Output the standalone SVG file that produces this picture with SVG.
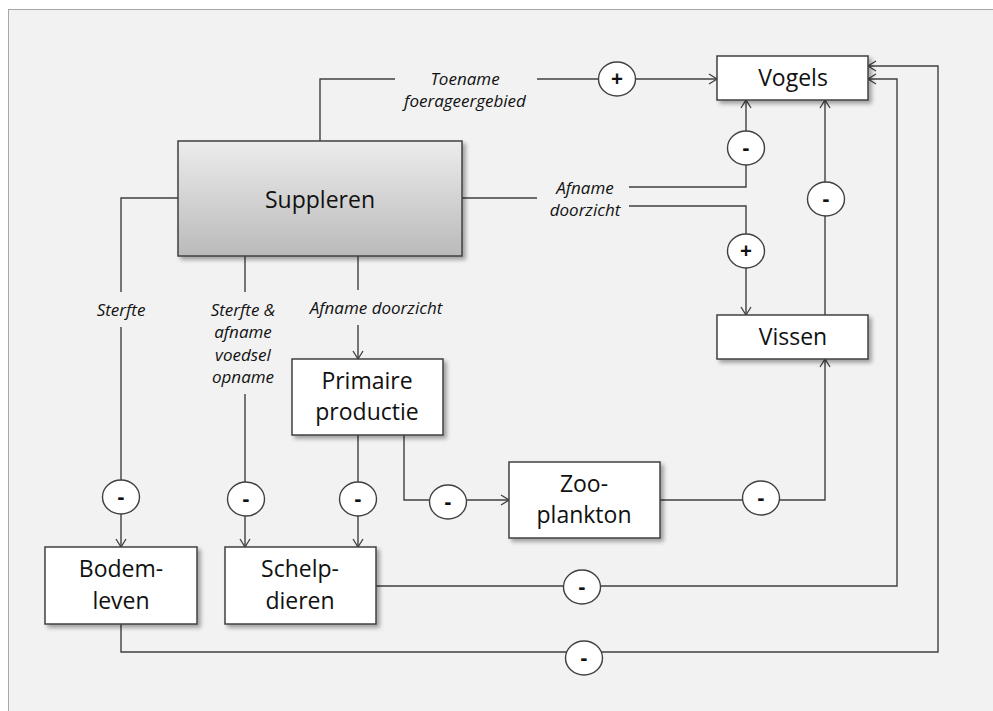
<svg xmlns="http://www.w3.org/2000/svg" width="993" height="711" viewBox="0 0 993 711">
<defs>
<linearGradient id="g" x1="0" y1="0" x2="0" y2="1">
<stop offset="0" stop-color="#ececec"/>
<stop offset="1" stop-color="#bababa"/>
</linearGradient>
<filter id="sh" x="-10%" y="-10%" width="130%" height="140%">
<feDropShadow dx="3" dy="3" stdDeviation="2" flood-color="#000" flood-opacity="0.35"/>
</filter>
<marker id="arr" markerUnits="userSpaceOnUse" markerWidth="12" markerHeight="12" refX="9" refY="6" orient="auto">
<path d="M1,1 L9,6 L1,11" fill="none" stroke="#404040" stroke-width="1.3"/>
</marker>
</defs>
<style>
.box{fill:#fff;stroke:#404040;stroke-width:1.5;filter:url(#sh)}
.nt{font-family:"Open Sans","Liberation Sans",sans-serif;font-size:23px;fill:#111;text-anchor:middle}
.lb{font-family:"Open Sans","Liberation Sans",sans-serif;font-size:17px;font-style:italic;fill:#111;text-anchor:middle}
.ln{fill:none;stroke:#404040;stroke-width:1.4}
.sg{fill:#fff;stroke:#404040;stroke-width:1.4}
.st{font-family:"Open Sans","Liberation Sans",sans-serif;font-size:21px;font-weight:bold;fill:#111;text-anchor:middle}
</style>
<rect x="8.5" y="9.5" width="990" height="710" fill="#f2f2f2" stroke="#a8a8a8" stroke-width="1"/>

<g id="connectors">
<path class="ln" d="M320,141 V79 H395"/>
<path class="ln" d="M537,79 H717" marker-end="url(#arr)"/>
<path class="ln" d="M462,198 H537"/>
<path class="ln" d="M629,187 H746 V100" marker-end="url(#arr)"/>
<path class="ln" d="M629,206 H746 V315" marker-end="url(#arr)"/>
<path class="ln" d="M825,315 V100" marker-end="url(#arr)"/>
<path class="ln" d="M660,500 H825 V359" marker-end="url(#arr)"/>
<path class="ln" d="M404,435 V500 H509" marker-end="url(#arr)"/>
<path class="ln" d="M358,435 V547" marker-end="url(#arr)"/>
<path class="ln" d="M358,256 V290"/>
<path class="ln" d="M358,325 V359" marker-end="url(#arr)"/>
<path class="ln" d="M178,198 H121 V292"/>
<path class="ln" d="M121,327 V547" marker-end="url(#arr)"/>
<path class="ln" d="M245,256 V292"/>
<path class="ln" d="M245,394 V547" marker-end="url(#arr)"/>
<path class="ln" d="M376,586 H897 V79 H868" marker-end="url(#arr)"/>
<path class="ln" d="M121,624 V652 H938 V66 H868" marker-end="url(#arr)"/>

<text class="lb" x="465" y="85">Toename</text>
<text class="lb" x="465" y="107">foerageergebied</text>
<text class="lb" x="585" y="194">Afname</text>
<text class="lb" x="585" y="216">doorzicht</text>
<text class="lb" x="376" y="314">Afname doorzicht</text>
<text class="lb" x="121" y="316">Sterfte</text>
<text class="lb" x="243" y="316">Sterfte &amp;</text>
<text class="lb" x="243" y="338">afname</text>
<text class="lb" x="243" y="361">voedsel</text>
<text class="lb" x="243" y="383">opname</text>

<g id="signs">
<ellipse class="sg" cx="617" cy="79" rx="18.5" ry="17"/><text class="st" x="617" y="86">+</text>
<ellipse class="sg" cx="746" cy="148" rx="18.5" ry="17"/><text class="st" x="746" y="155">-</text>
<ellipse class="sg" cx="746" cy="251" rx="18.5" ry="17"/><text class="st" x="746" y="258">+</text>
<ellipse class="sg" cx="826" cy="199" rx="18.5" ry="17"/><text class="st" x="826" y="206">-</text>
<ellipse class="sg" cx="761" cy="498" rx="18.5" ry="17"/><text class="st" x="761" y="505">-</text>
<ellipse class="sg" cx="448" cy="502" rx="18.5" ry="17"/><text class="st" x="448" y="509">-</text>
<ellipse class="sg" cx="358" cy="499" rx="18.5" ry="17"/><text class="st" x="358" y="506">-</text>
<ellipse class="sg" cx="246" cy="499" rx="18.5" ry="17"/><text class="st" x="246" y="506">-</text>
<ellipse class="sg" cx="121" cy="497" rx="18.5" ry="17"/><text class="st" x="121" y="504">-</text>
<ellipse class="sg" cx="582" cy="587" rx="18.5" ry="17"/><text class="st" x="582" y="594">-</text>
<ellipse class="sg" cx="584" cy="658" rx="18.5" ry="17"/><text class="st" x="584" y="665">-</text>
</g>
</g>

<g id="suppleren">
<rect x="178" y="141" width="284" height="115" fill="url(#g)" stroke="#404040" stroke-width="1.5" filter="url(#sh)"/>
<text class="nt" x="320" y="208" font-size="26">Suppleren</text>
</g>
<g id="vogels">
<rect class="box" x="717" y="56" width="151" height="44"/>
<text class="nt" x="793" y="86">Vogels</text>
</g>
<g id="vissen">
<rect class="box" x="717" y="315" width="151" height="44"/>
<text class="nt" x="793" y="345">Vissen</text>
</g>
<g id="primaire">
<rect class="box" x="292" y="359" width="151" height="76"/>
<text class="nt" x="367" y="389">Primaire</text>
<text class="nt" x="367" y="420">productie</text>
</g>
<g id="zooplankton">
<rect class="box" x="509" y="462" width="151" height="76"/>
<text class="nt" x="584" y="492">Zoo-</text>
<text class="nt" x="584" y="523">plankton</text>
</g>
<g id="schelpdieren">
<rect class="box" x="225" y="547" width="151" height="77"/>
<text class="nt" x="300" y="577">Schelp-</text>
<text class="nt" x="300" y="609">dieren</text>
</g>
<g id="bodemleven">
<rect class="box" x="45" y="547" width="152" height="77"/>
<text class="nt" x="121" y="577">Bodem-</text>
<text class="nt" x="121" y="609">leven</text>
</g>
</svg>
